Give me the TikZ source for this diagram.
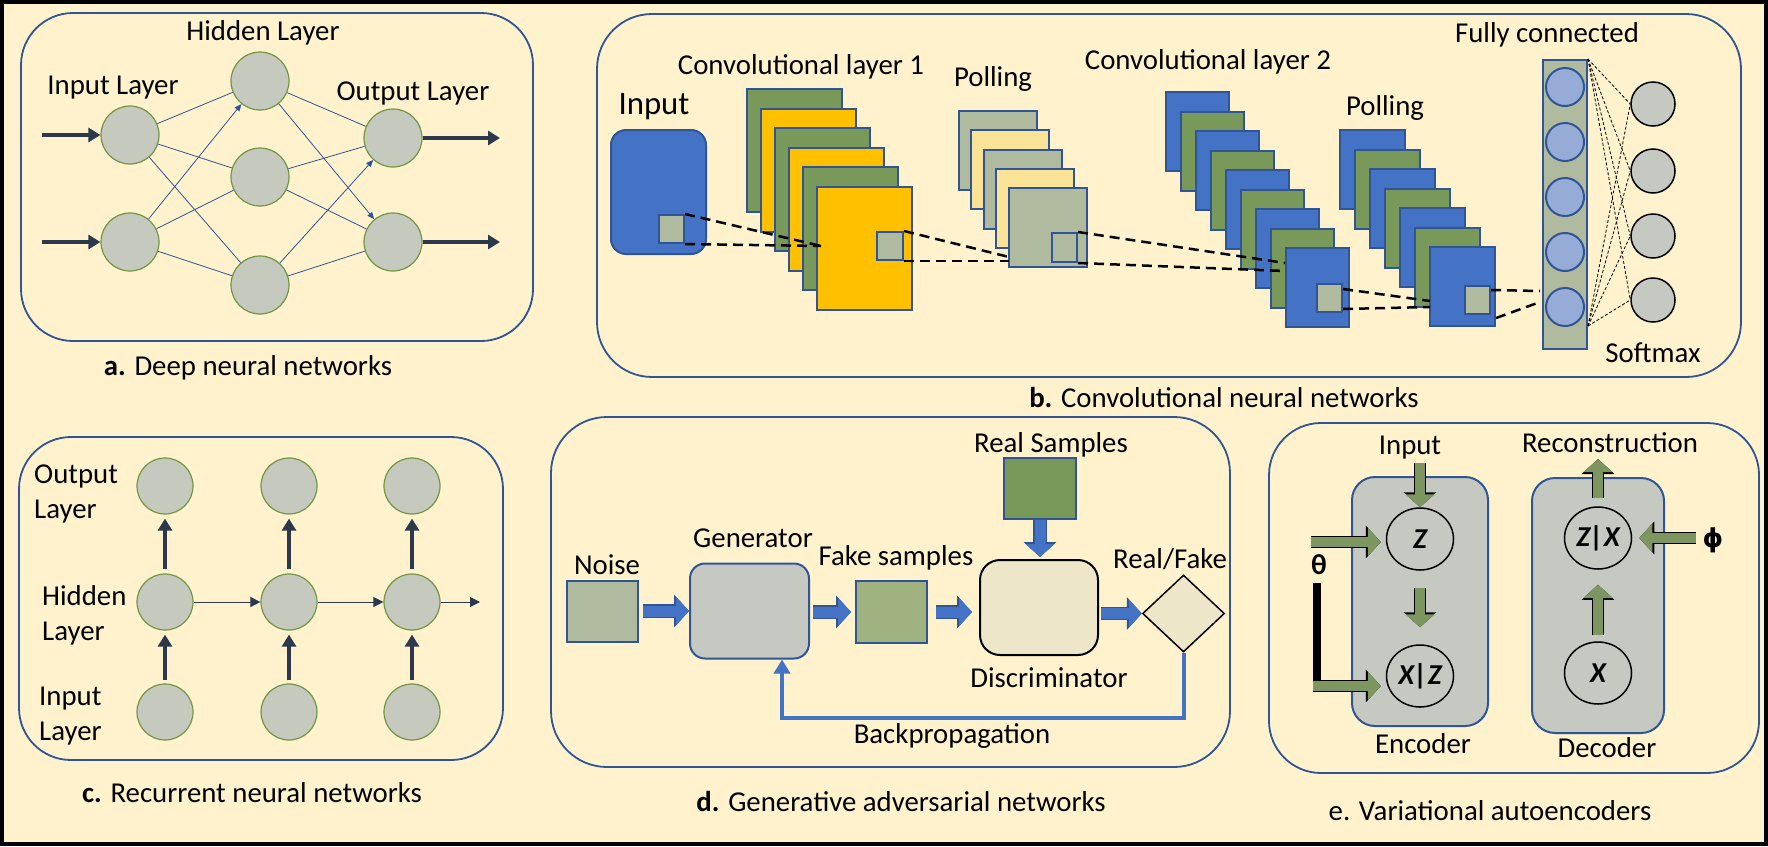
\documentclass[tikz,border=0pt]{standalone}
\usepackage{fontspec}
\setmainfont{Carlito}
\newfontfamily\dejavu{DejaVu Sans}
\usetikzlibrary{arrows.meta,shapes.geometric,calc}

\definecolor{bgyellow}{RGB}{255,242,204}
\definecolor{panelblue}{RGB}{47,85,151}
\definecolor{nodegray}{RGB}{198,201,190}
\definecolor{nodeedge}{RGB}{112,150,70}
\definecolor{darkarrow}{RGB}{44,56,76}
\definecolor{mapblue}{RGB}{68,114,196}
\definecolor{mapgreen}{RGB}{120,153,90}
\definecolor{maporange}{RGB}{255,192,0}
\definecolor{dotgray}{RGB}{176,186,158}
\definecolor{dotyellow}{RGB}{250,226,150}
\definecolor{unitblue}{RGB}{150,172,214}
\definecolor{boxgray}{RGB}{197,201,194}
\definecolor{beige}{RGB}{238,230,200}
\definecolor{fakegreen}{RGB}{160,178,128}
\definecolor{vaegreen}{RGB}{125,150,95}

\tikzset{
  panel/.style={draw=panelblue, line width=1.8pt, rounded corners=52pt},
  neuron/.style={circle, draw=nodeedge, fill=nodegray, line width=1.2pt, minimum size=58pt, inner sep=0pt},
  rneuron/.style={neuron, minimum size=56pt},
  link/.style={draw=panelblue, line width=0.8pt},
  linktip/.style={link, -{Triangle[length=7pt,width=6pt]}},
  fatarrow/.style={draw=darkarrow, line width=4.5pt, -{Triangle[length=12pt,width=14pt]}},
  thinarrow/.style={draw=darkarrow, line width=1pt, -{Triangle[length=10pt,width=10pt]}},
  fmap/.style={rectangle, draw=panelblue, line width=2pt, inner sep=0pt},
  patch/.style={fmap, fill=dotgray, minimum width=25pt, minimum height=28pt},
  field/.style={black, line width=2.5pt, dash pattern=on 10pt off 6pt},
  softline/.style={black, line width=0.8pt, dash pattern=on 3pt off 2pt},
  blockarrow/.style={draw=mapblue, line width=11pt, -{Triangle[length=13pt,width=28pt]},
    preaction={draw=panelblue, line width=13.5pt, -{Triangle[length=15pt,width=32pt]}}},
  garrow/.style={draw=vaegreen, line width=10pt, -{Triangle[length=13pt,width=28pt]},
    preaction={draw=black, line width=12.5pt, -{Triangle[length=15pt,width=32pt]}}},
  backprop/.style={draw=mapblue, line width=4pt, -{Triangle[length=14pt,width=16pt]}},
  latent/.style={ellipse, draw=black, line width=1.5pt, minimum width=67pt, minimum height=62pt, inner sep=0pt, font=\bfseries\itshape},
  sidelabel/.style={anchor=west, align=left, inner sep=0pt}
}

\begin{document}
\begin{tikzpicture}[x=1pt,y=-1pt,node font=\fontsize{28.8}{35}\selectfont]
\useasboundingbox (0,0) rectangle (1768,846);
\fill[bgyellow] (0,0) rectangle (1768,846);
\draw[line width=4pt] (2,2) rectangle (1766,844);

% a. deep neural network
\draw[panel] (21,13) rectangle (533,341);
\foreach \n/\x/\y in {i1/130/135,i2/130/242,h1/260/81,h2/260/177,h3/260/285,o1/393/138,o2/393/242}
    \node[neuron] (\n) at (\x,\y) {};
\foreach \a/\b in {i1/h1,i1/h2,i1/h3,i2/h2,i2/h3,h1/o1,h2/o1,h2/o2,h3/o2}
    \draw[link] (\a) -- (\b);
\foreach \a/\b in {i2/h1,h1/o2,h3/o1}
    \draw[linktip] (\a) -- (\b);
\coordinate (ia1) at (42,135);
\coordinate (ia2) at (42,242);
\coordinate (oa1) at (500,138);
\coordinate (oa2) at (500,242);
\foreach \k in {1,2} {
    \draw[fatarrow] (ia\k) -- (i\k);
    \draw[fatarrow] (o\k) -- (oa\k);
}
\node (lin) at (113,88) {Input Layer};
\node (lhid) at (263,33) {Hidden Layer};
\node (lout) at (413,93) {Output Layer};
\node (capa) at (248,368) {\textbf{a.} Deep neural networks};

% b. convolutional neural network
\draw[panel, rounded corners=55pt] (597,14) rectangle (1741,377);
\node[fmap, fill=mapblue, rounded corners=15pt, minimum width=95pt, minimum height=124pt] (inp) at (658.5,192) {};
\node[patch] (pin) at (671.5,229) {};
\foreach \i/\c in {0/mapgreen,1/maporange,2/mapgreen,3/maporange,4/mapgreen,5/maporange}
    \node[fmap, fill=\c, minimum width=95pt, minimum height=123pt] (ca\i) at ({794+14.1*\i},{150.5+19.5*\i}) {};
\node[patch, minimum width=26pt] (pa) at (890,246) {};
\foreach \i/\c in {0/dotgray,1/dotyellow,2/dotgray,3/dotyellow,4/dotgray}
    \node[fmap, fill=\c, minimum width=78pt, minimum height=79pt] (pb\i) at ({998+12.4*\i},{150.5+19.25*\i}) {};
\node[patch, minimum height=29pt] (pb) at (1064.5,247.5) {};
\foreach \i/\c in {0/mapblue,1/mapgreen,2/mapblue,3/mapgreen,4/mapblue,5/mapgreen,6/mapblue,7/mapgreen,8/mapblue}
    \node[fmap, fill=\c, minimum width=63pt, minimum height=79pt] (cc\i) at ({1197.5+15*\i},{131.5+19.5*\i}) {};
\node[patch] (pc) at (1329.5,298) {};
\foreach \i/\c in {0/mapblue,1/mapgreen,2/mapblue,3/mapgreen,4/mapblue,5/mapgreen,6/mapblue}
    \node[fmap, fill=\c, minimum width=65pt, minimum height=79pt] (pd\i) at ({1372.5+15*\i},{169.5+19.5*\i}) {};
\node[patch] (pd) at (1477.5,300) {};
\node[fmap, fill=dotgray, minimum width=44pt, minimum height=289pt] (fc) at (1565,204.5) {};
\foreach \i/\y in {1/87,2/142,3/197,4/252,5/307}
    \node[circle, draw=panelblue, line width=2pt, fill=unitblue, minimum size=38pt, inner sep=0pt] (fu\i) at (1565,\y) {};
\foreach \i/\y in {1/104,2/171,3/236,4/300}
    \node[circle, draw=black, line width=1.5pt, fill=boxgray, minimum size=44pt, inner sep=0pt] (sm\i) at (1653,\y) {};
% receptive fields
\coordinate (ra) at (821,246);
\draw[field] (pin.north east) -- (ra);
\draw[field] (pin.south east) -- (ra);
\coordinate (rb1) at (1009,257);
\coordinate (rb2) at (1009,261);
\draw[field] (pa.north east) -- (rb1);
\draw[field] (pa.south east) -- (rb2);
\coordinate (rc1) at (1285,263);
\coordinate (rc2) at (1285,271);
\draw[field] (pb.north east) -- (rc1);
\draw[field] (pb.south east) -- (rc2);
\coordinate (rd1) at (1430,301);
\coordinate (rd2) at (1430,307);
\draw[field] ([yshift=-6pt]pc.north east) -- (rd1);
\draw[field] ([yshift=4pt]pc.south east) -- (rd2);
\coordinate (re1) at (1540,291);
\coordinate (re2) at (1540,302);
\draw[field] ([yshift=-5pt]pd.north east) -- (re1);
\draw[field] ([yshift=9pt]pd6.south east) -- (re2);
\foreach \i in {1,...,4} {
    \draw[softline] (fc.north east) -- (sm\i.west);
    \draw[softline] ([yshift=24pt]fc.south east) -- (sm\i.west);
}
\node[font=\fontsize{32.8}{38}\selectfont] (linp) at (654,107) {Input};
\node (lca) at (801,67) {Convolutional layer 1};
\node (lpa) at (993,79) {Polling};
\node (lcb) at (1208,62) {Convolutional layer 2};
\node (lpb) at (1385,108) {Polling};
\node (lfc) at (1547,35) {Fully connected};
\node (lsm) at (1653,353) {Softmax};
\node (capb) at (1224,397) {\textbf{b.} Convolutional neural networks};

% c. recurrent neural network
\draw[panel] (19,437) rectangle (503,760);
\foreach \c/\x in {1/165,2/289,3/412} {
    \node[rneuron] (rin\c) at (\x,712) {};
    \node[rneuron] (rhd\c) at (\x,602) {};
    \node[rneuron] (rout\c) at (\x,486) {};
    \draw[fatarrow, shorten <=3pt, shorten >=4pt] (rin\c) -- (rhd\c);
    \draw[fatarrow, shorten <=4pt, shorten >=4pt] (rhd\c) -- (rout\c);
}
\coordinate (rnext) at (480,602);
\draw[thinarrow] (rhd1) -- (rhd2);
\draw[thinarrow] (rhd2) -- (rhd3);
\draw[thinarrow] (rhd3) -- (rnext);
\node[sidelabel] (lro) at (34,494) {Output\\Layer};
\node[sidelabel] (lrh) at (42,615) {Hidden\\Layer};
\node[sidelabel] (lri) at (39,716) {Input\\Layer};
\node (capc) at (252,793) {\textbf{c.} Recurrent neural networks};

% d. generative adversarial network
\draw[panel, rounded corners=56pt] (551,417) rectangle (1230,767);
\node[fmap, fill=dotgray, minimum width=71pt, minimum height=61pt] (noise) at (602.5,611) {};
\node[fmap, fill=boxgray, rounded corners=15pt, minimum width=119pt, minimum height=95pt] (gen) at (749.5,611) {};
\node[fmap, fill=fakegreen, minimum width=71pt, minimum height=62pt] (fake) at (891.5,612) {};
\node[fmap, draw=black, fill=beige, rounded corners=20pt, minimum width=118pt, minimum height=95pt] (disc) at (1039,607.5) {};
\node[fmap, fill=mapgreen, minimum width=72pt, minimum height=61pt] (real) at (1040,488.5) {};
\node[diamond, draw=black, line width=1.5pt, fill=beige, minimum width=82pt, minimum height=77pt, inner sep=0pt] (rf) at (1183.5,613.5) {};
\draw[blockarrow, shorten <=4pt] (noise) -- (gen);
\draw[blockarrow, shorten <=3pt, shorten >=4pt] (gen.east |- fake) -- (fake);
\draw[blockarrow, shorten <=8pt, shorten >=7pt] (fake) -- (fake -| disc.west);
\draw[blockarrow, shorten <=2pt] (disc.east |- rf) -- (rf);
\draw[blockarrow, shorten >=2pt] (real) -- (real |- disc.north);
\coordinate (bp) at (782,718);
\draw[backprop] (rf.south) |- (bp) -- (bp |- gen.south);
\node (lnoise) at (607,565) {Noise};
\node (lgen) at (753,538) {Generator};
\node (lfake) at (896,558) {Fake samples};
\node (ldisc) at (1049,678) {Discriminator};
\node (lreal) at (1051,445) {Real Samples};
\node (lrf) at (1170,559) {Real/Fake};
\node (lbp) at (952,736) {Backpropagation};
\node (capd) at (901,801) {\textbf{d.} Generative adversarial networks};

% e. variational autoencoder
\draw[panel] (1269,423) rectangle (1759,773);
\node[fmap, fill=boxgray, rounded corners=23pt, minimum width=136pt, minimum height=249pt] (enc) at (1420,601.5) {};
\node[fmap, fill=boxgray, rounded corners=23pt, minimum width=132pt, minimum height=255pt] (dec) at (1598,605.5) {};
\node[latent] (z) at (1420,539) {Z};
\node[latent] (xz) at (1420,676) {X|Z};
\node[latent] (zx) at (1598,538) {Z|X};
\node[latent] (xd) at (1598,673) {X};
\coordinate (ein) at (1420,463);
\coordinate (th1) at (1311,542);
\coordinate (th2) at (1313,686);
\coordinate (tb1) at (1317,583);
\coordinate (tb2) at (1317,692);
\coordinate (rec) at (1598,459);
\coordinate (phin) at (1696,538);
\draw[black, line width=8pt] (tb1) -- (tb2);
\draw[garrow] (ein) -- (z);
\draw[garrow, shorten <=17pt, shorten >=17pt] (z) -- (xz);
\draw[garrow, shorten >=5pt] (th1) -- (th1 -| z.west);
\draw[garrow, shorten >=5pt] (th2) -- (th2 -| xz.west);
\draw[garrow, shorten <=8pt] (zx) -- (rec);
\draw[garrow, shorten <=6pt, shorten >=15pt] (xd) -- (zx);
\draw[garrow, shorten >=7pt] (phin) -- (zx);
\node[font=\bfseries] (lth) at (1319,565) {θ};
\node[font=\dejavu\bfseries\fontsize{26}{30}\selectfont] (lphi) at (1713,540) {ϕ};
\node (leinp) at (1410,448) {Input};
\node (lrec) at (1610,443) {Reconstruction};
\node (lenc) at (1423,744) {Encoder};
\node (ldec) at (1607,748) {Decoder};
\node (cape) at (1490,811) {e. Variational autoencoders};
\end{tikzpicture}
\end{document}
